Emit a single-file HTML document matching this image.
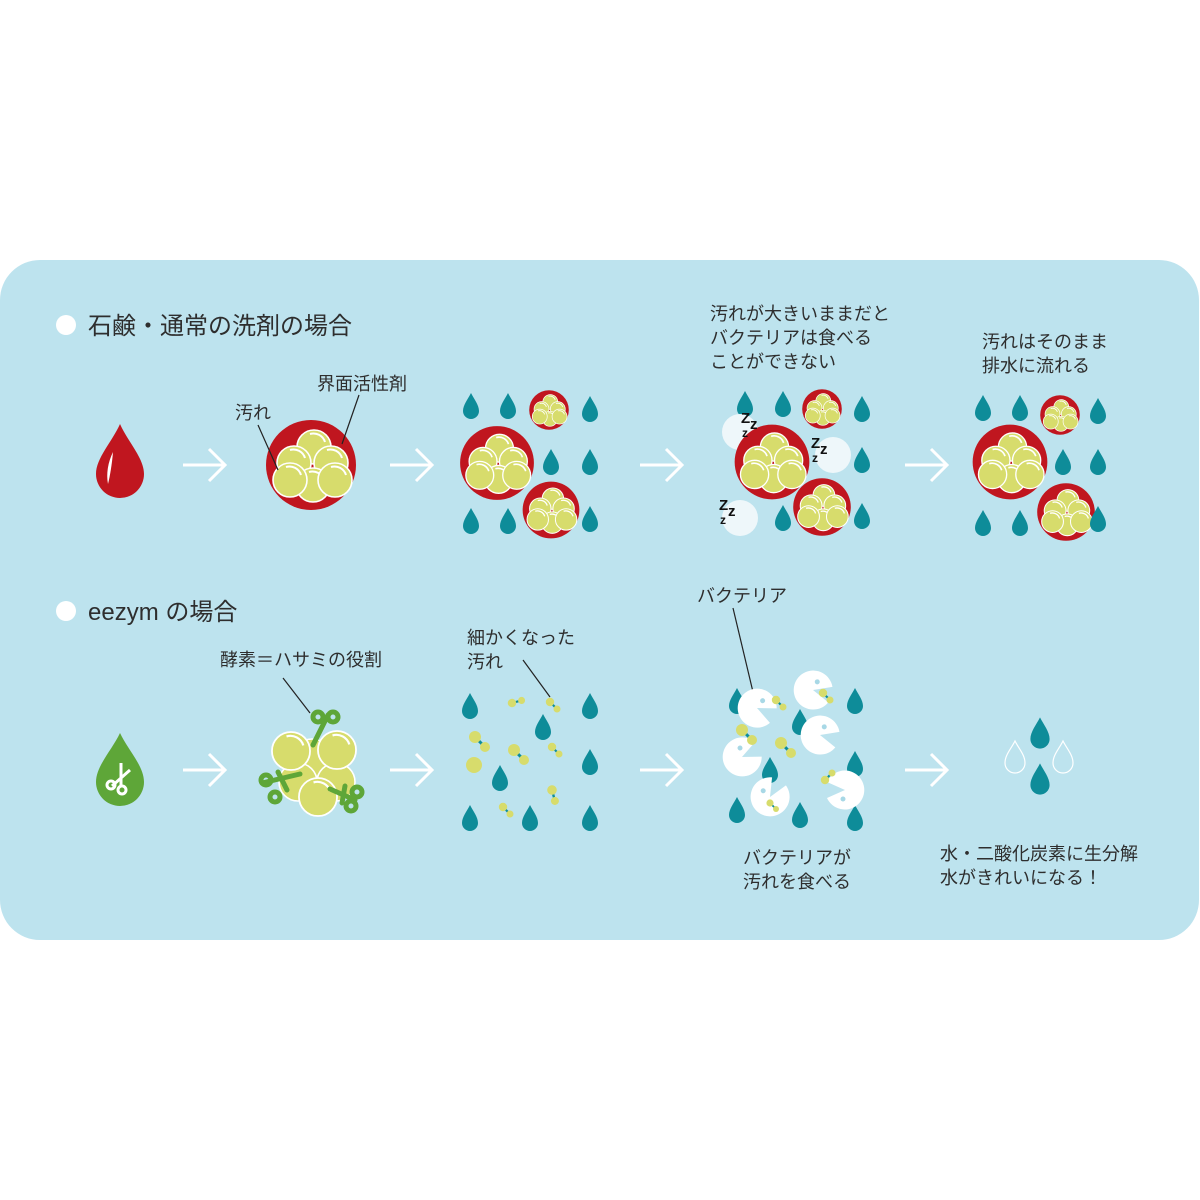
<!DOCTYPE html>
<html><head><meta charset="utf-8"><style>
html,body{margin:0;padding:0;background:#fff}
svg{display:block}
text{font-family:"Liberation Sans","Noto Sans CJK JP",sans-serif;fill:#2e2e2e}
</style></head><body>
<svg width="1200" height="1200" viewBox="0 0 1200 1200" xmlns="http://www.w3.org/2000/svg">
<defs>
<path id="dr" d="M0,-13 C3,-7 8,-1 8,5 A8,8 0 0 1 -8,5 C-8,-1 -3,-7 0,-13Z" fill="#0e8c99"/>
<g id="ball"><circle r="17" fill="#d7dc6c" stroke="#fff" stroke-width="1.6"/><path d="M-4,-13 A12,12 0 0 1 11,-5" stroke="#fff" stroke-width="2" fill="none"/></g>
<g id="cl">
<circle r="45" fill="#c0161f"/>
<use href="#ball" x="3" y="-18"/><use href="#ball" x="-17" y="-2"/><use href="#ball" x="20" y="-2"/>
<use href="#ball" x="2" y="20"/><use href="#ball" x="-21" y="15"/><use href="#ball" x="24" y="15"/>
</g>
<g id="pac"><path d="M0,0 L18,-8 A19.5,19.5 0 1 0 18,8 Z" fill="#fff"/><circle cx="2" cy="-9" r="2.5" fill="#a8d8e6"/></g>
<g id="mol"><line x1="0" y1="0" x2="10" y2="10" stroke="#0e8c99" stroke-width="3"/><circle r="6" fill="#d7dc6c"/><circle cx="10" cy="10" r="5" fill="#d7dc6c"/></g>
<g id="ar" stroke="#fff" stroke-width="3" fill="none"><line x1="-21" y1="0" x2="20" y2="0"/><polyline points="5,-16 21,0 5,16"/></g>
<g id="zz"><text x="0" y="0" font-size="15" font-weight="bold" style="fill:#111">Z</text><text x="9" y="6" font-size="15" font-weight="bold" style="fill:#111">z</text><text x="1" y="14" font-size="12" font-weight="bold" style="fill:#111">z</text></g>
</defs>
<rect x="0" y="260" width="1199" height="680" rx="40" fill="#bde3ee"/>

<circle cx="66" cy="325" r="10" fill="#fff"/>
<text x="88" y="334" font-size="24">石鹸・通常の洗剤の場合</text>
<circle cx="66" cy="611" r="10" fill="#fff"/>
<text x="88" y="620" font-size="24">eezym の場合</text>

<!-- row1 -->
<path d="M120,424 C128,442 144,458 144,474 A24,24 0 0 1 96,474 C96,458 112,442 120,424Z" fill="#c0161f"/>
<path d="M113,452 C108,462 106,474 108,484 C110,476 112,464 113,452Z" fill="#fff"/>
<use href="#ar" x="204" y="465"/><use href="#ar" x="411" y="465"/><use href="#ar" x="661" y="465"/><use href="#ar" x="926" y="465"/>

<use href="#cl" transform="translate(311,465)"/>
<text x="317" y="390" font-size="18">界面活性剤</text>
<text x="235" y="419" font-size="18">汚れ</text>
<line x1="258" y1="425" x2="278" y2="470" stroke="#222" stroke-width="1.2"/>
<line x1="359" y1="395" x2="342" y2="444" stroke="#222" stroke-width="1.2"/>

<use href="#cl" transform="translate(497,463) scale(0.82)"/>
<use href="#cl" transform="translate(549,410) scale(0.44)"/>
<use href="#cl" transform="translate(551,510) scale(0.63)"/>
<use href="#dr" x="471" y="406"/><use href="#dr" x="508" y="406"/><use href="#dr" x="590" y="409"/>
<use href="#dr" x="551" y="462"/><use href="#dr" x="590" y="462"/><use href="#dr" x="471" y="521"/><use href="#dr" x="508" y="521"/><use href="#dr" x="590" y="519"/>

<text x="710" y="320" font-size="18">汚れが大きいままだと</text>
<text x="710" y="344" font-size="18">バクテリアは食べる</text>
<text x="710" y="368" font-size="18">ことができない</text>
<use href="#dr" x="745" y="404"/><use href="#dr" x="783" y="404"/><use href="#dr" x="862" y="409"/><use href="#dr" x="862" y="460"/><use href="#dr" x="783" y="518"/><use href="#dr" x="862" y="516"/>
<circle cx="740" cy="432" r="18" fill="#eef7fa"/>
<use href="#cl" transform="translate(772,462) scale(0.83)"/>
<use href="#cl" transform="translate(822,409) scale(0.44)"/>
<use href="#cl" transform="translate(822,507) scale(0.64)"/>
<circle cx="833" cy="455" r="18" fill="#eef7fa"/>
<circle cx="740" cy="518" r="18" fill="#eef7fa"/>
<use href="#zz" x="741" y="423"/><use href="#zz" x="811" y="448"/><use href="#zz" x="719" y="510"/>

<text x="982" y="348" font-size="18">汚れはそのまま</text>
<text x="982" y="372" font-size="18">排水に流れる</text>
<use href="#cl" transform="translate(1010,462) scale(0.83)"/>
<use href="#cl" transform="translate(1060,415) scale(0.44)"/>
<use href="#cl" transform="translate(1066,512) scale(0.64)"/>
<use href="#dr" x="983" y="408"/><use href="#dr" x="1020" y="408"/><use href="#dr" x="1098" y="411"/><use href="#dr" x="1063" y="462"/><use href="#dr" x="1098" y="462"/><use href="#dr" x="983" y="523"/><use href="#dr" x="1020" y="523"/><use href="#dr" x="1098" y="519"/>

<text x="697" y="602" font-size="18">バクテリア</text>
<line x1="733" y1="608" x2="753" y2="692" stroke="#222" stroke-width="1.2"/>

<!-- row2 -->
<path d="M120,733 C128,750 144,766 144,782 A24,24 0 0 1 96,782 C96,766 112,750 120,733Z" fill="#5ea638"/>
<g stroke="#fff" stroke-width="3" fill="none"><line x1="112" y1="786" x2="130" y2="770"/><line x1="121" y1="763" x2="121" y2="785"/><circle cx="111" cy="785" r="4"/><circle cx="122" cy="790" r="4"/></g>
<use href="#ar" x="204" y="770"/><use href="#ar" x="411" y="770"/><use href="#ar" x="661" y="770"/><use href="#ar" x="926" y="770"/>

<text x="220" y="666" font-size="18">酵素＝ハサミの役割</text>
<line x1="283" y1="678" x2="310" y2="713" stroke="#222" stroke-width="1.2"/>
<circle cx="312" cy="758" r="19" fill="#d7dc6c" stroke="#fff" stroke-width="1.6"/>
<circle cx="298" cy="782" r="19" fill="#d7dc6c" stroke="#fff" stroke-width="1.6"/>
<circle cx="336" cy="782" r="19" fill="#d7dc6c" stroke="#fff" stroke-width="1.6"/>
<use href="#ball" transform="translate(291,751) scale(1.12)"/>
<use href="#ball" transform="translate(337,750) scale(1.12)"/>
<use href="#ball" transform="translate(318,797) scale(1.12)"/>
<g stroke="#5ea638" stroke-width="5" fill="none" stroke-linecap="round">
<line x1="313" y1="745" x2="328" y2="715"/><circle cx="318" cy="717" r="5"/><circle cx="333" cy="717" r="5"/>
<line x1="262" y1="783" x2="300" y2="774"/><line x1="278" y1="772" x2="287" y2="790"/><circle cx="266" cy="780" r="5"/><circle cx="275" cy="797" r="5"/>
<line x1="330" y1="789" x2="355" y2="800"/><line x1="345" y1="786" x2="342" y2="803"/><circle cx="357" cy="792" r="5"/><circle cx="351" cy="806" r="5"/>
</g>

<text x="467" y="644" font-size="18">細かくなった</text>
<text x="467" y="668" font-size="18">汚れ</text>
<line x1="523" y1="660" x2="550" y2="697" stroke="#222" stroke-width="1.2"/>
<use href="#dr" x="470" y="706"/><use href="#dr" x="590" y="706"/><use href="#dr" x="543" y="727"/><use href="#dr" x="590" y="762"/><use href="#dr" x="500" y="778"/><use href="#dr" x="470" y="818"/><use href="#dr" x="530" y="818"/><use href="#dr" x="590" y="818"/>
<use href="#mol" transform="translate(512,703) rotate(-60) scale(0.7)"/>
<use href="#mol" transform="translate(550,702) scale(0.7)"/>
<use href="#mol" transform="translate(475,737)"/>
<circle cx="474" cy="765" r="8" fill="#d7dc6c"/>
<use href="#mol" transform="translate(514,750)"/>
<use href="#mol" transform="translate(552,747) scale(0.7)"/>
<use href="#mol" transform="translate(503,807) scale(0.7)"/>
<use href="#mol" transform="translate(552,790) rotate(30) scale(0.8)"/>

<use href="#dr" x="737" y="701"/><use href="#dr" x="855" y="701"/><use href="#dr" x="800" y="722"/><use href="#dr" x="855" y="764"/><use href="#dr" x="770" y="770"/><use href="#dr" x="737" y="810"/><use href="#dr" x="800" y="815"/><use href="#dr" x="855" y="818"/>
<use href="#pac" transform="translate(757,708) rotate(25)"/>
<use href="#pac" transform="translate(813,690) rotate(15)"/>
<use href="#pac" transform="translate(820,735) rotate(15)"/>
<use href="#pac" transform="translate(742,757) rotate(-25)"/>
<use href="#pac" transform="translate(770,797) rotate(-60)"/>
<use href="#pac" transform="translate(845,790) rotate(180)"/>
<use href="#mol" transform="translate(776,700) scale(0.7)"/>
<use href="#mol" transform="translate(823,693) scale(0.7)"/>
<use href="#mol" transform="translate(742,730)"/>
<use href="#mol" transform="translate(781,743)"/>
<use href="#mol" transform="translate(825,780) rotate(-90) scale(0.7)"/>
<use href="#mol" transform="translate(770,803) scale(0.6)"/>

<text x="797" y="864" font-size="18" text-anchor="middle">バクテリアが</text>
<text x="797" y="888" font-size="18" text-anchor="middle">汚れを食べる</text>

<use href="#dr" transform="translate(1040,733) scale(1.2)"/>
<use href="#dr" transform="translate(1040,779) scale(1.2)"/>
<g fill="none" stroke="#fff" stroke-width="1.2"><path d="M1015,741 C1019,749 1025,755 1025,763 A10,10 0 0 1 1005,763 C1005,755 1011,749 1015,741Z"/><path d="M1063,741 C1067,749 1073,755 1073,763 A10,10 0 0 1 1053,763 C1053,755 1059,749 1063,741Z"/></g>
<text x="940" y="860" font-size="18">水・二酸化炭素に生分解</text>
<text x="940" y="884" font-size="18">水がきれいになる！</text>
</svg>
</body></html>
